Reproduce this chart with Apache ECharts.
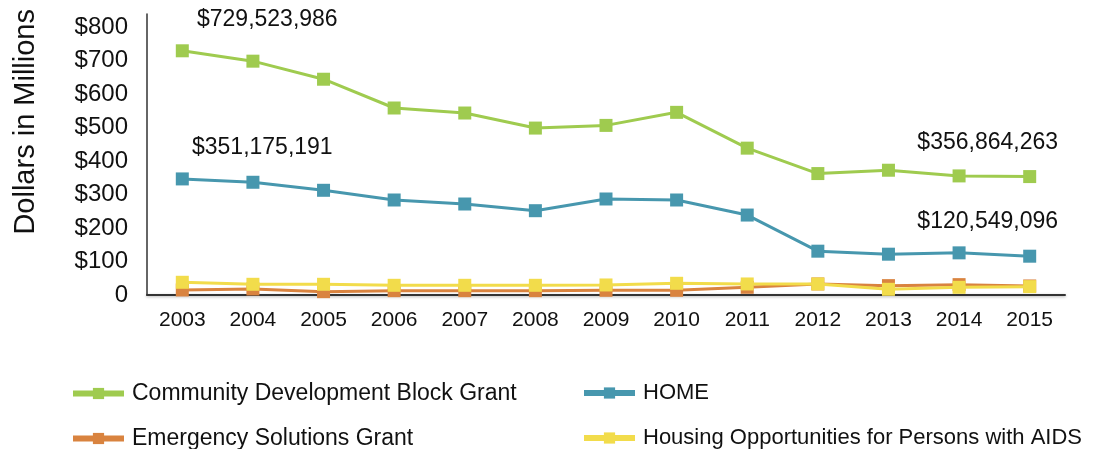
<!DOCTYPE html>
<html>
<head>
<meta charset="utf-8">
<script src="https://cdn.jsdelivr.net/npm/echarts@6/dist/echarts.min.js"></script>
<style>html,body{margin:0;padding:0;background:#fff}#chart{width:1097px;height:449px}</style>
</head>
<body>
<div id="chart"></div>
<script>
const years = ['2003','2004','2005','2006','2007','2008','2009','2010','2011','2012','2013','2014','2015'];
const cdbg  = [730, 699, 645, 559, 544, 499, 507, 546, 439, 363, 373, 356, 354];
const home  = [347, 337, 313, 284, 272, 252, 287, 284, 239, 131, 122, 126, 116];
const esg   = [15, 18, 10, 13, 13, 13, 14, 14, 23, 33, 28, 31, 27];
const hopwa = [38, 32, 32, 29, 29, 29, 30, 35, 33, 33, 17, 23, 25];
const seriesNames = ['Community Development Block Grant', 'HOME', 'Emergency Solutions Grant', 'Housing Opportunities for Persons with AIDS'];
const cdbgLabels = ['$729,523,986', '$356,864,263'];
const homeLabels = ['$351,175,191', '$120,549,096'];
const yTicks = [0, 100, 200, 300, 400, 500, 600, 700, 800];

const colors = ['#9fcb4f', '#4797ae', '#d9833f', '#f2dc4b'];
const FONT = 'Liberation Sans, Arial, Helvetica, sans-serif';

function withLabels(values, labels, firstOffset, lastOffset) {
  return values.map((v, i) => {
    if (i === 0 || i === values.length - 1) {
      const txt = i === 0 ? labels[0] : labels[1];
      return {
        value: v,
        label: {
          show: true, position: 'top', formatter: txt,
          offset: i === 0 ? firstOffset : lastOffset,
          fontFamily: FONT, fontSize: 23, color: '#111'
        }
      };
    }
    return v;
  });
}

function lineSeries(name, data, color, z) {
  return {
    name, type: 'line', data, z,
    symbol: 'rect', symbolSize: 13,
    itemStyle: { color },
    lineStyle: { color, width: 3 },
    emphasis: { disabled: true },
    animation: false
  };
}

function legendItem(name, left, top, fontSize) {
  return {
    data: [name], left, top, orient: 'horizontal', padding: 0,
    itemWidth: 51, itemHeight: 14, itemGap: 10,
    lineStyle: { width: 6 },
    textStyle: { fontFamily: FONT, fontSize, color: '#111', padding: [0, 0, 0, 3] },
    selectedMode: false
  };
}

const chart = echarts.init(document.getElementById('chart'), null, { renderer: 'canvas' });
chart.setOption({
  backgroundColor: '#fff',
  animation: false,
  grid: { left: 147, right: 32, top: 14, bottom: 154, containLabel: false },
  xAxis: {
    type: 'category', data: years, boundaryGap: true,
    axisLine: { lineStyle: { color: '#333', width: 2, shadowColor: 'rgba(0,0,0,0.3)', shadowBlur: 3, shadowOffsetY: 1 } },
    axisTick: { show: false },
    axisLabel: { fontFamily: FONT, fontSize: 21, color: '#111', margin: 15 }
  },
  yAxis: {
    type: 'value', min: 0, max: 840, interval: 100,
    axisLine: { show: true, lineStyle: { color: '#333', width: 1.5 } },
    axisTick: { show: false },
    splitLine: { show: false },
    axisLabel: {
      fontFamily: FONT, fontSize: 24, color: '#111', margin: 19,
      formatter: v => yTicks.includes(v) ? (v === 0 ? '0' : '$' + v) : ''
    }
  },
  legend: [
    legendItem(seriesNames[0], 70, 382, 23),
    legendItem(seriesNames[2], 70, 427, 23),
    legendItem(seriesNames[1], 581, 382, 22),
    legendItem(seriesNames[3], 581, 427, 22)
  ],
  graphic: [{
    type: 'text', left: 11, top: 9,
    rotation: Math.PI / 2,
    style: { text: 'Dollars in Millions', font: '29px ' + FONT, fill: '#111' }
  }],
  series: [
    lineSeries(seriesNames[0], withLabels(cdbg, cdbgLabels, [85, -8], [-42, -11]), colors[0], 4),
    lineSeries(seriesNames[1], withLabels(home, homeLabels, [80, -8], [-42, -12]), colors[1], 3),
    lineSeries(seriesNames[2], esg, colors[2], 2),
    lineSeries(seriesNames[3], hopwa, colors[3], 2.5)
  ]
});
</script>
</body>
</html>
